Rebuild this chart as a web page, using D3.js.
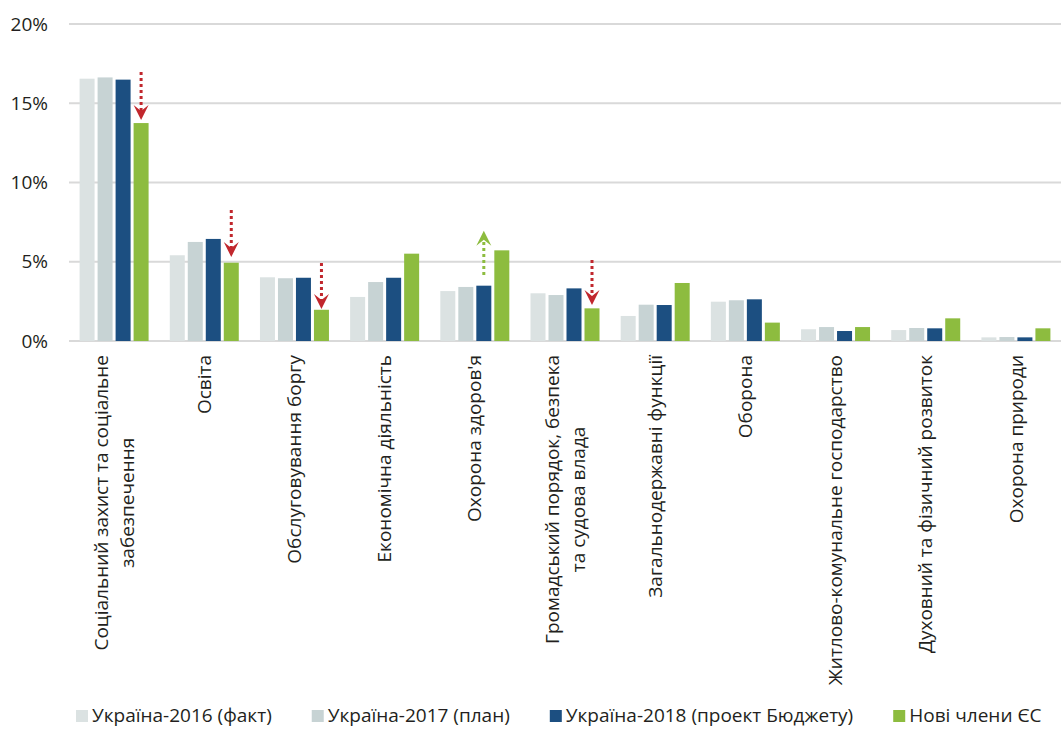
<!DOCTYPE html>
<html>
<head>
<meta charset="utf-8">
<script src="https://cdn.jsdelivr.net/npm/d3@7"></script>
<style>
    body { margin: 0; background: #fff; }
    text { font-family: "Open Sans", sans-serif; fill: #231f20; }
</style>
</head>
<body>
<svg id="chart" width="1061" height="729"></svg>
<script>
// categories (line breaks marked with \n)
const categories = [
    "Соціальний захист та соціальне\nзабезпечення",
    "Освіта",
    "Обслуговування боргу",
    "Економічна діяльність",
    "Охорона здоров'я",
    "Громадський порядок, безпека\nта судова влада",
    "Загальнодержавні функції",
    "Оборона",
    "Житлово-комунальне господарство",
    "Духовний та фізичний розвиток",
    "Охорона природи"
];

const series = ["Україна-2016 (факт)", "Україна-2017 (план)", "Україна-2018 (проект Бюджету)", "Нові члени ЄС"];
const colors = ["#dbe2e2", "#c7d3d4", "#1c4f81", "#8dbc3f"];

// shares of total spending, %
const ua2016 = [16.55, 5.41, 4.02, 2.78, 3.15, 3.01, 1.58, 2.48, 0.74, 0.69, 0.23];
const ua2017 = [16.63, 6.25, 3.96, 3.72, 3.41, 2.90, 2.29, 2.57, 0.88, 0.82, 0.25];
const ua2018 = [16.49, 6.44, 3.99, 3.99, 3.49, 3.32, 2.27, 2.63, 0.63, 0.80, 0.23];
const euNew  = [13.75, 4.94, 1.97, 5.51, 5.72, 2.06, 3.66, 1.16, 0.88, 1.43, 0.80];

const yTicks = [0, 5, 10, 15, 20];

// arrows: category index, series index, start value, end value
const arrows = [
    [0, 3, 16.97, 13.94],
    [1, 3, 8.27, 5.30],
    [2, 3, 4.92, 2.02],
    [4, 2, 4.16, 6.96],
    [5, 3, 5.11, 2.27]
];

let svg = d3.select('#chart');

let plotLeft = 69, plotRight = 1061, plotTop = 24, plotBottom = 341;
let fontSize = '19px';

let x0 = d3.scaleBand()
    .domain(d3.range(categories.length))
    .range([plotLeft, plotRight]);

let bw = x0.bandwidth();
let x1 = d3.scaleBand()
    .domain(d3.range(series.length))
    .range([bw / 2 - 34.5, bw / 2 + 34.5])
    .paddingInner(1 / 6);

let y = d3.scaleLinear()
    .domain([0, 20])
    .range([plotBottom, plotTop]);

// gridlines
svg.append('g')
    .selectAll('line')
    .data(yTicks)
    .join('line')
    .attr('x1', plotLeft)
    .attr('x2', plotRight)
    .attr('y1', d => y(d))
    .attr('y2', d => y(d))
    .attr('stroke', '#d9d9d9')
    .attr('stroke-width', 2);

// y tick labels
svg.append('g')
    .selectAll('text')
    .data(yTicks)
    .join('text')
    .attr('x', 48)
    .attr('y', d => y(d))
    .attr('dy', '0.35em')
    .attr('text-anchor', 'end')
    .attr('font-size', fontSize)
    .text(d => d + '%');

// bars
let allSeries = [ua2016, ua2017, ua2018, euNew];

let groups = svg.append('g')
    .selectAll('g')
    .data(categories.map((c, i) => i))
    .join('g')
    .attr('transform', i => 'translate(' + x0(i) + ',0)');

groups.selectAll('rect')
    .data(i => allSeries.map((s, k) => ({k: k, v: s[i]})))
    .join('rect')
    .attr('x', d => x1(d.k))
    .attr('width', x1.bandwidth())
    .attr('y', d => y(d.v))
    .attr('height', d => y(0) - y(d.v))
    .attr('fill', d => colors[d.k]);

// arrows
let arrowG = svg.append('g')
    .selectAll('g')
    .data(arrows)
    .join('g')
    .attr('transform', d => 'translate(' + (x0(d[0]) + x1(d[1]) + x1.bandwidth() / 2) + ',0)');

arrowG.each(function (d) {
    let g = d3.select(this);
    let down = d[3] < d[2];
    let col = down ? '#c1272d' : '#8dbc3f';
    let y0 = y(d[2]);
    let tip = y(d[3]);
    let s = down ? 1 : -1;
    g.append('line')
        .attr('x1', 0).attr('x2', 0)
        .attr('y1', y0)
        .attr('y2', tip - s * 9)
        .attr('stroke', col)
        .attr('stroke-width', 3)
        .attr('stroke-dasharray', '3,3');
    g.append('path')
        .attr('d', 'M0,' + tip + 'L-7.5,' + (tip - s * 15) + 'L0,' + (tip - s * 9) + 'L7.5,' + (tip - s * 15) + 'Z')
        .attr('fill', col);
});

// x labels, rotated
let labels = svg.append('g')
    .selectAll('text')
    .data(categories.map((c, i) => i))
    .join('text')
    .attr('font-size', fontSize)
    .attr('text-anchor', 'middle');

labels.each(function (i) {
    let t = d3.select(this);
    let lines = categories[i].split('\n');
    lines.forEach((l, j) => {
        t.append('tspan')
            .attr('x', 0)
            .attr('y', (j - (lines.length - 1) / 2) * 26)
            .attr('dy', '0.35em')
            .text(l);
    });
    let w = d3.max(t.selectAll('tspan').nodes(), n => n.getComputedTextLength());
    t.attr('transform', 'translate(' + (x0(i) + bw / 2) + ',' + (355 + w / 2) + ') rotate(-90)');
});

// legend
let legend = svg.append('g').attr('transform', 'translate(76,0)');
let lx = 0;
series.forEach((s, k) => {
    legend.append('rect')
        .attr('x', lx).attr('y', 710)
        .attr('width', 12).attr('height', 12)
        .attr('fill', colors[k]);
    let t = legend.append('text')
        .attr('x', lx + 16)
        .attr('y', 722)
        .attr('font-size', fontSize)
        .text(s);
    lx += 16 + t.node().getComputedTextLength() + 40;
});
</script>
</body>
</html>
